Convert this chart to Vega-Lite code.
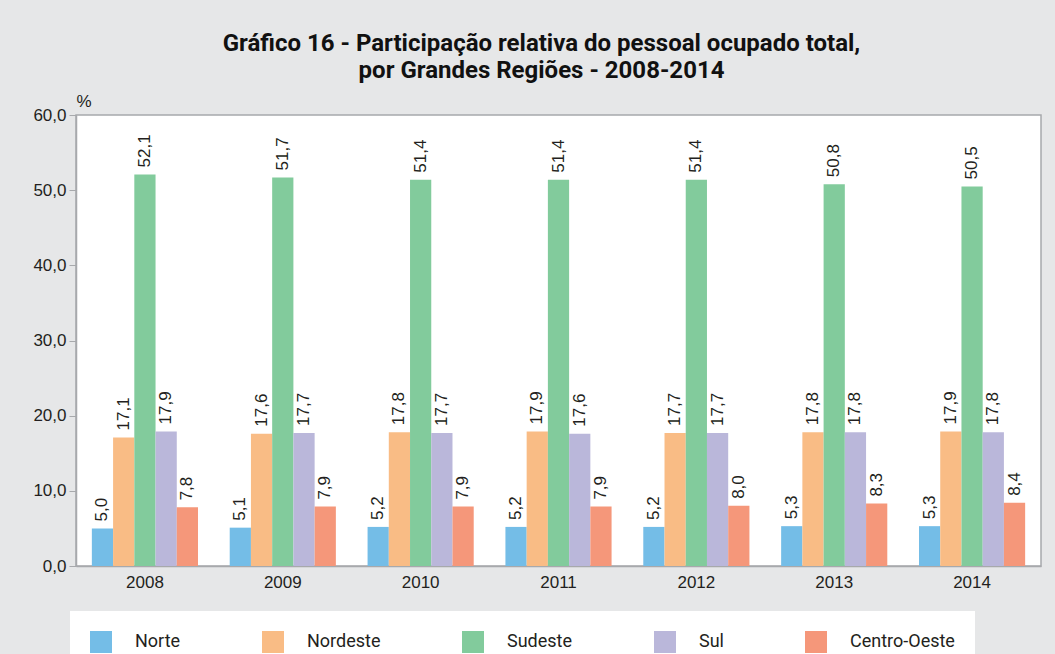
{
  "$schema": "https://vega.github.io/schema/vega-lite/v6.json",
  "width": 965,
  "height": 451,
  "autosize": {"type": "none"},
  "padding": {"left": 76, "top": 115, "right": 14, "bottom": 88},
  "background": "#e6e7e8",
  "config": {
    "locale": {"number": {"decimal": ",", "thousands": ".", "grouping": [3], "currency": ["R$", ""]}},
    "view": {"fill": "white", "stroke": "#a7a9ac", "strokeWidth": 1.5},
    "font": "Liberation Sans"
  },
  "title": {
    "text": ["Gráfico 16 - Participação relativa do pessoal ocupado total,", "por Grandes Regiões - 2008-2014"],
    "font": "Roboto",
    "fontSize": 24,
    "fontWeight": "bold",
    "color": "#111111",
    "lineHeight": 27,
    "anchor": "middle",
    "dx": -17,
    "offset": 9
  },
  "data": {
    "values": [
      {"ano": "2008", "regiao": "Norte", "valor": 5.0},
      {"ano": "2008", "regiao": "Nordeste", "valor": 17.1},
      {"ano": "2008", "regiao": "Sudeste", "valor": 52.1},
      {"ano": "2008", "regiao": "Sul", "valor": 17.9},
      {"ano": "2008", "regiao": "Centro-Oeste", "valor": 7.8},
      {"ano": "2009", "regiao": "Norte", "valor": 5.1},
      {"ano": "2009", "regiao": "Nordeste", "valor": 17.6},
      {"ano": "2009", "regiao": "Sudeste", "valor": 51.7},
      {"ano": "2009", "regiao": "Sul", "valor": 17.7},
      {"ano": "2009", "regiao": "Centro-Oeste", "valor": 7.9},
      {"ano": "2010", "regiao": "Norte", "valor": 5.2},
      {"ano": "2010", "regiao": "Nordeste", "valor": 17.8},
      {"ano": "2010", "regiao": "Sudeste", "valor": 51.4},
      {"ano": "2010", "regiao": "Sul", "valor": 17.7},
      {"ano": "2010", "regiao": "Centro-Oeste", "valor": 7.9},
      {"ano": "2011", "regiao": "Norte", "valor": 5.2},
      {"ano": "2011", "regiao": "Nordeste", "valor": 17.9},
      {"ano": "2011", "regiao": "Sudeste", "valor": 51.4},
      {"ano": "2011", "regiao": "Sul", "valor": 17.6},
      {"ano": "2011", "regiao": "Centro-Oeste", "valor": 7.9},
      {"ano": "2012", "regiao": "Norte", "valor": 5.2},
      {"ano": "2012", "regiao": "Nordeste", "valor": 17.7},
      {"ano": "2012", "regiao": "Sudeste", "valor": 51.4},
      {"ano": "2012", "regiao": "Sul", "valor": 17.7},
      {"ano": "2012", "regiao": "Centro-Oeste", "valor": 8.0},
      {"ano": "2013", "regiao": "Norte", "valor": 5.3},
      {"ano": "2013", "regiao": "Nordeste", "valor": 17.8},
      {"ano": "2013", "regiao": "Sudeste", "valor": 50.8},
      {"ano": "2013", "regiao": "Sul", "valor": 17.8},
      {"ano": "2013", "regiao": "Centro-Oeste", "valor": 8.3},
      {"ano": "2014", "regiao": "Norte", "valor": 5.3},
      {"ano": "2014", "regiao": "Nordeste", "valor": 17.9},
      {"ano": "2014", "regiao": "Sudeste", "valor": 50.5},
      {"ano": "2014", "regiao": "Sul", "valor": 17.8},
      {"ano": "2014", "regiao": "Centro-Oeste", "valor": 8.4}
    ]
  },
  "encoding": {
    "x": {
      "field": "ano", "type": "nominal",
      "scale": {"paddingInner": 0.23, "paddingOuter": 0.115},
      "axis": {"title": null, "labelAngle": 0, "labelFontSize": 17, "labelColor": "#231f20", "labelPadding": 8, "ticks": false, "domainColor": "#a7a9ac", "domainWidth": 1.5}
    },
    "xOffset": {"field": "regiao", "type": "nominal", "sort": ["Norte", "Nordeste", "Sudeste", "Sul", "Centro-Oeste"], "scale": {"paddingInner": 0, "paddingOuter": 0}},
    "y": {
      "field": "valor", "type": "quantitative",
      "scale": {"domain": [0, 60], "nice": false},
      "axis": {"title": "%", "titleAngle": 0, "titleAlign": "left", "titleBaseline": "alphabetic", "titleX": 0, "titleY": -9, "titleFontSize": 17, "titleFontWeight": "normal", "titleColor": "#231f20",
        "values": [0, 10, 20, 30, 40, 50, 60], "format": ".1f", "labelFontSize": 17, "labelColor": "#231f20", "labelPadding": 3, "grid": false, "tickSize": 7, "tickColor": "#a7a9ac", "domainColor": "#a7a9ac", "domainWidth": 1.5}
    }
  },
  "layer": [
    {
      "mark": {"type": "bar"},
      "encoding": {
        "color": {
          "field": "regiao", "type": "nominal",
          "sort": ["Norte", "Nordeste", "Sudeste", "Sul", "Centro-Oeste"],
          "scale": {"domain": ["Norte", "Nordeste", "Sudeste", "Sul", "Centro-Oeste"], "range": ["#74bde7", "#f9bc85", "#82cb9c", "#bab7da", "#f5977a"]},
          "legend": {
            "title": null, "orient": "none", "direction": "horizontal",
            "legendX": -6, "legendY": 496, "padding": 20,
            "fillColor": "white",
            "symbolType": "square", "symbolSize": 484, "symbolStrokeWidth": 0, "symbolOpacity": 1,
            "labelFont": "Roboto", "labelFontSize": 18, "labelColor": "#231f20", "labelOffset": 23,
            "columnPadding": 81
          }
        }
      }
    },
    {
      "mark": {"type": "text", "angle": 270, "align": "left", "baseline": "middle", "dx": 7, "fontSize": 17, "color": "#231f20"},
      "encoding": {
        "text": {"field": "valor", "type": "quantitative", "format": ".1f"}
      }
    }
  ]
}
